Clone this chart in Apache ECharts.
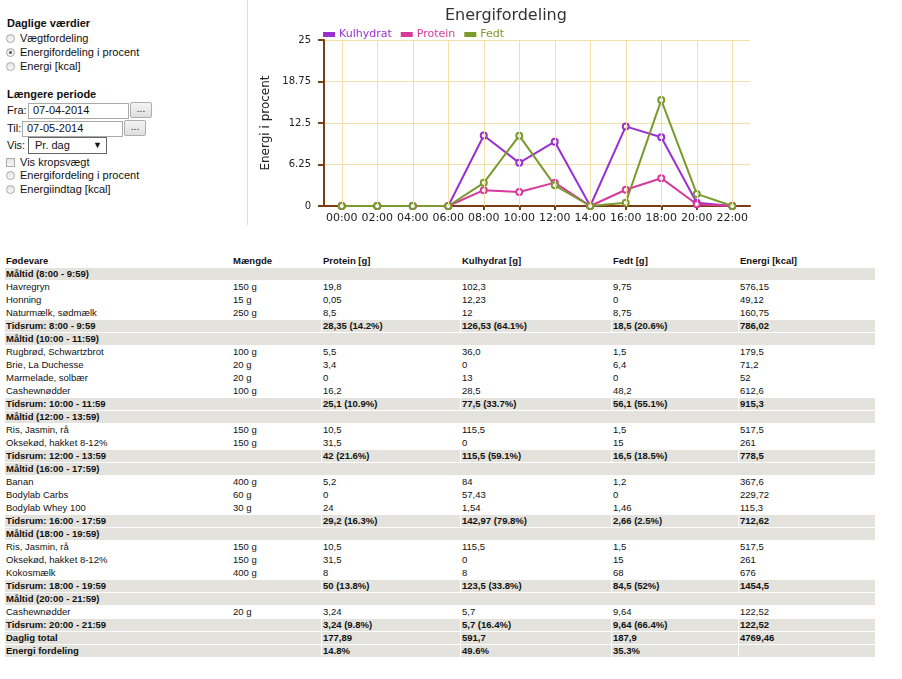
<!DOCTYPE html>
<html>
<head>
<meta charset="utf-8">
<script src="https://cdn.jsdelivr.net/npm/echarts@6/dist/echarts.min.js"></script>
<style>
  html,body{margin:0;padding:0;background:#fff;width:902px;height:679px;overflow:hidden;}
  body{position:relative;font-family:"Liberation Sans",Arial,sans-serif;color:#111;}
  .abs{position:absolute;}
  .lp{font-size:11px;line-height:13px;white-space:nowrap;}
  .b{font-weight:bold;}
  .radio{position:absolute;width:7px;height:7px;border:1px solid #a8a8a8;border-radius:50%;
    background:linear-gradient(#e6e6e6,#f8f8f8);}
  .radio.on::after{content:"";position:absolute;left:2px;top:2px;width:3px;height:3px;border-radius:50%;background:#555;}
  .chk{position:absolute;width:7px;height:7px;border:1px solid #a8a8a8;background:linear-gradient(#e6e6e6,#f8f8f8);}
  .inp{position:absolute;border:1px solid #a9a9a9;background:#fff;font-size:11px;line-height:13px;padding-left:4px;box-sizing:border-box;}
  .btn{position:absolute;border:1px solid #adadad;border-radius:2px;background:linear-gradient(#f4f4f4,#dedede);
    box-sizing:border-box;font-size:10px;text-align:center;line-height:12px;color:#222;}
  .sel{position:absolute;border:1px solid #666;background:#fff;box-sizing:border-box;font-size:11px;line-height:14px;padding-left:6px;}
  #sep{position:absolute;left:247px;top:0;width:1px;height:225px;background:#dcdcdc;}
  #chart{position:absolute;left:250px;top:0;width:520px;height:230px;}
  table{position:absolute;left:4px;top:254px;border-collapse:separate;border-spacing:1px;table-layout:fixed;
    font-family:"Liberation Sans",Arial,sans-serif;font-size:9.5px;color:#111;}
  td{height:12px;padding:0 0 0 1px;line-height:12px;white-space:nowrap;overflow:hidden;}
  tr.g td{background:#e3e2dc;font-weight:bold;}
  tr.h td{font-weight:bold;}
</style>
</head>
<body>
<div id="sep"></div>

<div class="abs lp b" style="left:7px;top:17px;">Daglige værdier</div>
<div class="radio" style="left:6px;top:34px;"></div><div class="abs lp" style="left:20px;top:32px;">Vægtfordeling</div>
<div class="radio on" style="left:6px;top:48px;"></div><div class="abs lp" style="left:20px;top:46px;">Energifordeling i procent</div>
<div class="radio" style="left:6px;top:62px;"></div><div class="abs lp" style="left:20px;top:60px;">Energi [kcal]</div>

<div class="abs lp b" style="left:7px;top:88px;">Længere periode</div>
<div class="abs lp" style="left:7px;top:104px;">Fra:</div>
<div class="inp" style="left:28px;top:103px;width:101px;height:16px;">07-04-2014</div>
<div class="btn" style="left:130px;top:102px;width:22px;height:16px;">...</div>
<div class="abs lp" style="left:7px;top:122px;">Til:</div>
<div class="inp" style="left:22px;top:121px;width:101px;height:16px;">07-05-2014</div>
<div class="btn" style="left:124px;top:120px;width:22px;height:16px;">...</div>
<div class="abs lp" style="left:7px;top:139px;">Vis:</div>
<div class="sel" style="left:28px;top:137px;width:79px;height:17px;">Pr. dag<span style="position:absolute;left:64px;top:0;font-size:9px;">▼</span></div>
<div class="chk" style="left:6px;top:158px;"></div><div class="abs lp" style="left:20px;top:156px;">Vis kropsvægt</div>
<div class="radio" style="left:6px;top:171px;"></div><div class="abs lp" style="left:20px;top:169px;">Energifordeling i procent</div>
<div class="radio" style="left:6px;top:185px;"></div><div class="abs lp" style="left:20px;top:183px;">Energiindtag [kcal]</div>

<div id="chart"></div>
<table id="tbl">
  <colgroup><col style="width:226px"><col style="width:89px"><col style="width:138px"><col style="width:150px"><col style="width:126px"><col style="width:136px"></colgroup>
  <tbody id="tb"></tbody>
</table>

<script>
// ---- chart data ----
const categories = ['00:00','02:00','04:00','06:00','08:00','10:00','12:00','14:00','16:00','18:00','20:00','22:00'];
const kulhydrat = [0, 0, 0, 0, 10.61, 6.50, 9.69, 0, 11.99, 10.36, 0.48, 0];
const protein   = [0, 0, 0, 0, 2.38, 2.11, 3.52, 0, 2.45, 4.19, 0.27, 0];
const fedt      = [0, 0, 0, 0, 3.49, 10.59, 3.11, 0, 0.50, 15.95, 1.82, 0];
const yTicks = [0, 6.25, 12.5, 18.75, 25];

// ---- table data ----
const tableHeader = ['Fødevare','Mængde','Protein [g]','Kulhydrat [g]','Fedt [g]','Energi [kcal]'];
const meals = [
  { title: 'Måltid (8:00 - 9:59)', items: [
      ['Havregryn','150 g','19,8','102,3','9,75','576,15'],
      ['Honning','15 g','0,05','12,23','0','49,12'],
      ['Naturmælk, sødmælk','250 g','8,5','12','8,75','160,75']],
    total: ['Tidsrum: 8:00 - 9:59','28,35 (14.2%)','126,53 (64.1%)','18,5 (20.6%)','786,02'] },
  { title: 'Måltid (10:00 - 11:59)', items: [
      ['Rugbrød, Schwartzbrot','100 g','5,5','36,0','1,5','179,5'],
      ['Brie, La Duchesse','20 g','3,4','0','6,4','71,2'],
      ['Marmelade, solbær','20 g','0','13','0','52'],
      ['Cashewnødder','100 g','16,2','28,5','48,2','612,6']],
    total: ['Tidsrum: 10:00 - 11:59','25,1 (10.9%)','77,5 (33.7%)','56,1 (55.1%)','915,3'] },
  { title: 'Måltid (12:00 - 13:59)', items: [
      ['Ris, Jasmin, rå','150 g','10,5','115,5','1,5','517,5'],
      ['Oksekød, hakket 8-12%','150 g','31,5','0','15','261']],
    total: ['Tidsrum: 12:00 - 13:59','42 (21.6%)','115,5 (59.1%)','16,5 (18.5%)','778,5'] },
  { title: 'Måltid (16:00 - 17:59)', items: [
      ['Banan','400 g','5,2','84','1,2','367,6'],
      ['Bodylab Carbs','60 g','0','57,43','0','229,72'],
      ['Bodylab Whey 100','30 g','24','1,54','1,46','115,3']],
    total: ['Tidsrum: 16:00 - 17:59','29,2 (16.3%)','142,97 (79.8%)','2,66 (2.5%)','712,62'] },
  { title: 'Måltid (18:00 - 19:59)', items: [
      ['Ris, Jasmin, rå','150 g','10,5','115,5','1,5','517,5'],
      ['Oksekød, hakket 8-12%','150 g','31,5','0','15','261'],
      ['Kokosmælk','400 g','8','8','68','676']],
    total: ['Tidsrum: 18:00 - 19:59','50 (13.8%)','123,5 (33.8%)','84,5 (52%)','1454,5'] },
  { title: 'Måltid (20:00 - 21:59)', items: [
      ['Cashewnødder','20 g','3,24','5,7','9,64','122,52']],
    total: ['Tidsrum: 20:00 - 21:59','3,24 (9.8%)','5,7 (16.4%)','9,64 (66.4%)','122,52'] }
];
const dailyTotal = ['Daglig total','177,89','591,7','187,9','4769,46'];
const energyDist = ['Energi fordeling','14.8%','49.6%','35.3%',''];

// ---- build table ----
(function(){
  const tb = document.getElementById('tb');
  function row(cls, cells, spanFirst){
    const tr = document.createElement('tr');
    if (cls) tr.className = cls;
    cells.forEach((c, i) => {
      const td = document.createElement('td');
      td.textContent = c;
      if (i === 0 && spanFirst) td.colSpan = spanFirst;
      tr.appendChild(td);
    });
    tb.appendChild(tr);
  }
  row('h', tableHeader);
  meals.forEach(m => {
    row('g', [m.title], 6);
    m.items.forEach(it => row('', it));
    row('g', m.total, 2);
  });
  row('g', dailyTotal, 2);
  row('g', energyDist, 2);
})();

// ---- chart ----
const colors = { k: '#9b30d0', p: '#d63a9c', f: '#7a9a2e' };
const axisColor = '#7a3e12';
const gridColor = '#f3e0a6';
const chart = echarts.init(document.getElementById('chart'), null, { renderer: 'canvas' });
function mkSeries(name, data, color){
  return {
    name, type: 'line', data, z: 3,
    symbol: 'emptyCircle', symbolSize: 6,
    lineStyle: { color, width: 2 },
    itemStyle: { color, borderColor: color, borderWidth: 1.6 },
    emphasis: { disabled: true },
    animation: false
  };
}
chart.setOption({
  animation: false,
  title: {
    text: 'Energifordeling', left: 190, top: 3,
    textStyle: { fontFamily: 'DejaVu Sans', fontSize: 16, fontWeight: 'normal', color: '#333' }
  },
  legend: {
    left: 68, top: 24, itemWidth: 10, itemHeight: 3, itemGap: 9, icon: 'rect',
    data: [
      { name: 'Kulhydrat', textStyle: { color: colors.k } },
      { name: 'Protein', textStyle: { color: colors.p } },
      { name: 'Fedt', textStyle: { color: colors.f } }
    ],
    textStyle: { fontFamily: 'DejaVu Sans', fontSize: 11 }
  },
  grid: { left: 74, right: 20, top: 40, bottom: 24, containLabel: false },
  xAxis: {
    type: 'category', data: categories, boundaryGap: true,
    axisLine: { lineStyle: { color: axisColor, width: 2 } },
    axisTick: { show: true, alignWithLabel: true, length: 4, interval: 0, lineStyle: { color: axisColor, width: 2 } },
    axisLabel: { interval: 0, margin: 7, fontFamily: 'DejaVu Sans', fontSize: 11, color: '#222' },
    splitLine: { show: false }
  },
  yAxis: {
    type: 'value', min: yTicks[0], max: yTicks[yTicks.length - 1], interval: yTicks[1] - yTicks[0],
    name: 'Energi i procent', nameLocation: 'middle', nameGap: 47, nameRotate: 90,
    nameTextStyle: { fontFamily: 'DejaVu Sans', fontSize: 12, color: '#222' },
    axisLine: { show: true, lineStyle: { color: axisColor, width: 2 } },
    axisTick: { show: true, length: 6, lineStyle: { color: axisColor, width: 2 } },
    axisLabel: { margin: 13, fontFamily: 'DejaVu Sans', fontSize: 10, color: '#222',
      formatter: v => String(v) },
    splitLine: { show: true, lineStyle: { color: gridColor, width: 1 } }
  },
  series: [
    {
      name: 'vgrid', type: 'line', data: [], z: 1, silent: true,
      markLine: {
        silent: true, symbol: ['none', 'none'], animation: false,
        label: { show: false },
        lineStyle: { color: gridColor, width: 1, type: 'solid' },
        emphasis: { disabled: true },
        data: categories.map(c => ({ xAxis: c }))
      }
    },
    mkSeries('Kulhydrat', kulhydrat, colors.k),
    mkSeries('Protein', protein, colors.p),
    mkSeries('Fedt', fedt, colors.f)
  ]
});
</script>
</body>
</html>
